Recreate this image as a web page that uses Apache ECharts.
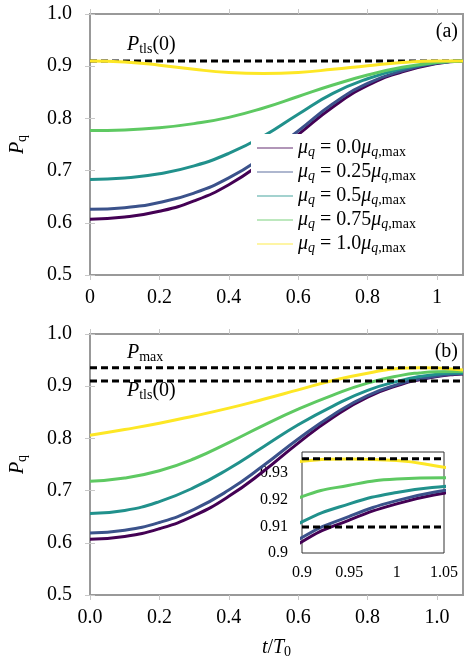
<!DOCTYPE html>
<html>
<head>
<meta charset="utf-8">
<script src="https://cdn.jsdelivr.net/npm/echarts@6.0.0/dist/echarts.min.js"></script>
<style>
html, body { margin: 0; padding: 0; background: #fff; }
#chart { width: 473px; height: 668px; }
</style>
</head>
<body>
<div id="chart"></div>
<script>
// data
const muLabels = ['0.0', '0.25', '0.5', '0.75', '1.0']
const colors = ['#440154', '#3b528b', '#21918c', '#5ec962', '#fde725']

const tA = [0, 0.1, 0.2, 0.3, 0.4, 0.5, 0.6, 0.7, 0.8, 0.9, 1.0, 1.075]
const a00 = [0.607, 0.611, 0.622, 0.642, 0.673, 0.717, 0.769, 0.822, 0.863, 0.889, 0.905, 0.910]
const a25 = [0.626, 0.629, 0.639, 0.657, 0.686, 0.727, 0.776, 0.828, 0.867, 0.891, 0.906, 0.910]
const a50 = [0.683, 0.686, 0.694, 0.709, 0.733, 0.766, 0.808, 0.848, 0.876, 0.895, 0.907, 0.910]
const a75 = [0.777, 0.778, 0.782, 0.790, 0.802, 0.820, 0.842, 0.864, 0.883, 0.898, 0.907, 0.910]
const a100 = [0.910, 0.908, 0.902, 0.894, 0.888, 0.886, 0.888, 0.894, 0.901, 0.907, 0.910, 0.910]

const tB = [0, 0.1, 0.2, 0.3, 0.4, 0.5, 0.6, 0.7, 0.8, 0.9, 0.95, 1.0, 1.05, 1.075]
const b00 = [0.607, 0.612, 0.627, 0.652, 0.689, 0.737, 0.791, 0.840, 0.879, 0.9042, 0.9124, 0.9185, 0.9225, 0.9235]
const b25 = [0.619, 0.624, 0.639, 0.664, 0.701, 0.748, 0.799, 0.845, 0.882, 0.9058, 0.9138, 0.9197, 0.9235, 0.9244]
const b50 = [0.656, 0.662, 0.679, 0.706, 0.742, 0.784, 0.826, 0.862, 0.892, 0.9117, 0.9185, 0.9228, 0.9250, 0.9254]
const b75 = [0.718, 0.724, 0.738, 0.761, 0.792, 0.825, 0.856, 0.883, 0.906, 0.9212, 0.9255, 0.9278, 0.9283, 0.9282]
const b100 = [0.806, 0.817, 0.829, 0.843, 0.858, 0.875, 0.893, 0.911, 0.925, 0.9345, 0.9354, 0.9348, 0.9323, 0.9310]

const pTls = 0.9098
const pMax = 0.9355

const xTicks = [0, 0.2, 0.4, 0.6, 0.8, 1.0]
const yTicks = [0.5, 0.6, 0.7, 0.8, 0.9, 1.0]
const insetXTicks = [0.9, 0.95, 1.0, 1.05]
const insetYTicks = [0.9, 0.91, 0.92, 0.93]

const serif = '"Liberation Serif", "DejaVu Serif", serif'
const rich = {
    i: { fontFamily: serif, fontStyle: 'italic', fontSize: 20, lineHeight: 22, color: '#000' },
    n: { fontFamily: serif, fontSize: 20, lineHeight: 22, color: '#000' },
    s: { fontFamily: serif, fontSize: 14, lineHeight: 12, verticalAlign: 'bottom', color: '#000' },
    si: { fontFamily: serif, fontStyle: 'italic', fontSize: 14, lineHeight: 12, verticalAlign: 'bottom', color: '#000' },
}
const names = muLabels.map(m => 'mu' + m)

const pairs = (t, v) => t.map((x, i) => [x, v[i]])

function curve(name, color, t, v, xi, yi) {
    return {
        type: 'line', name: name, xAxisIndex: xi, yAxisIndex: yi,
        data: pairs(t, v), smooth: 0.5, symbol: 'none', clip: true,
        lineStyle: { color: color, width: 3 }, itemStyle: { color: color },
    }
}
function dashed(x0, x1, y, xi, yi) {
    return {
        type: 'line', xAxisIndex: xi, yAxisIndex: yi,
        data: [[x0, y], [x1, y]], symbol: 'none', silent: true,
        lineStyle: { color: '#000', width: 3, type: [7, 4] },
    }
}

function mainX(gi, fmt, top) {
    return {
        type: 'value', gridIndex: gi, min: 0, max: 1.075, position: top ? 'top' : 'bottom',
        axisLine: { show: false }, splitLine: { show: false },
        axisTick: { length: 5, lineStyle: { color: '#c8c8c8' }, customValues: xTicks },
        axisLabel: { show: !top, customValues: xTicks, formatter: fmt, margin: 13,
            fontFamily: serif, fontSize: 20, color: '#000' },
    }
}
function mainY(gi, right) {
    return {
        type: 'value', gridIndex: gi, min: 0.5, max: 1.0, position: right ? 'right' : 'left',
        axisLine: { show: false }, splitLine: { show: false },
        axisTick: { length: 5, lineStyle: { color: '#c8c8c8' }, customValues: yTicks },
        axisLabel: { show: !right, customValues: yTicks, formatter: v => (+v).toFixed(1), margin: 18,
            fontFamily: serif, fontSize: 20, color: '#000' },
        name: right ? '' : '{i|P}{s|q}', nameLocation: 'middle', nameRotate: 90, nameGap: 61,
        nameTextStyle: { rich: rich },
    }
}

const xa = mainX(0, v => (v === 0 ? '0' : v === 1 ? '1' : (+v).toFixed(1)))
const xb = mainX(1, v => (+v).toFixed(1))
xb.name = '{i|t}{n|/}{i|T}{s|0}'
xb.nameLocation = 'middle'
xb.nameGap = 42
xb.nameTextStyle = { rich: rich }

const chart = echarts.init(document.getElementById('chart'))
const seriesA = [dashed(0, 1.075, pTls, 0, 0)]
    .concat([a00, a25, a50, a75, a100].map((v, k) => curve(names[k], colors[k], tA, v, 0, 0)))
const seriesB = [b00, b25, b50, b75, b100].map((v, k) => curve(names[k], colors[k], tB, v, 1, 1))
    .concat([dashed(0, 1.075, pMax, 1, 1), dashed(0, 1.075, pTls, 1, 1)])
const seriesC = [b00, b25, b50, b75, b100].map((v, k) => curve(names[k], colors[k], tB, v, 4, 4))
    .concat([dashed(0.9, 1.05, pMax, 4, 4), dashed(0.9, 1.05, pTls, 4, 4)])

chart.setOption({
    animation: false,
    grid: [
        { left: 84, top: 14, width: 379, height: 261, show: true, borderColor: '#999', borderWidth: 2 },
        { left: 84, top: 334, width: 379, height: 261, show: true, borderColor: '#999', borderWidth: 2 },
        { left: 302, top: 452, width: 142, height: 101, show: true, borderColor: '#333', borderWidth: 1,
            backgroundColor: '#fff', z: 3 },
    ],
    xAxis: [
        xa, xb, mainX(0, null, true), mainX(1, null, true),
        { type: 'value', gridIndex: 2, min: 0.9, max: 1.05, interval: 0.05, z: 3,
            axisLine: { show: false }, splitLine: { show: false }, axisTick: { show: false },
            axisLabel: { customValues: insetXTicks, formatter: v => String(+(+v).toFixed(3)), margin: 12,
                fontFamily: serif, fontSize: 16, color: '#000' } },
    ],
    yAxis: [
        mainY(0), mainY(1), mainY(0, true), mainY(1, true),
        { type: 'value', gridIndex: 2, min: 0.9, max: 0.938, z: 3,
            axisLine: { show: false }, splitLine: { show: false }, axisTick: { show: false },
            axisLabel: { customValues: insetYTicks, formatter: v => String(+(+v).toFixed(3)), margin: 14,
                fontFamily: serif, fontSize: 16, color: '#000' } },
    ],
    legend: {
        data: names, orient: 'vertical', left: 251, top: 134, padding: [4, 8, 5, 6],
        itemGap: 3, itemWidth: 36, itemHeight: 1.5, icon: 'rect', backgroundColor: '#fff',
        selectedMode: false, itemStyle: { opacity: 0.55 },
        formatter: name => {
            const m = muLabels[names.indexOf(name)]
            return '{i|μ}{si|q}{n| = ' + m + '}{i|μ}{si|q}{s|,max}'
        },
        textStyle: { rich: rich },
    },
    graphic: [
        { type: 'text', left: 127, top: 35, style: { text: '{i|P}{s|tls}{n|(0)}', rich: rich } },
        { type: 'text', right: 15, top: 22, style: { text: '{n|(a)}', rich: rich } },
        { type: 'text', left: 127, top: 343, style: { text: '{i|P}{s|max}', rich: rich } },
        { type: 'text', left: 127, top: 381, style: { text: '{i|P}{s|tls}{n|(0)}', rich: rich } },
        { type: 'text', right: 15, top: 342, style: { text: '{n|(b)}', rich: rich } },
    ],
    series: seriesA.concat(seriesB, seriesC),
})
</script>
</body>
</html>
